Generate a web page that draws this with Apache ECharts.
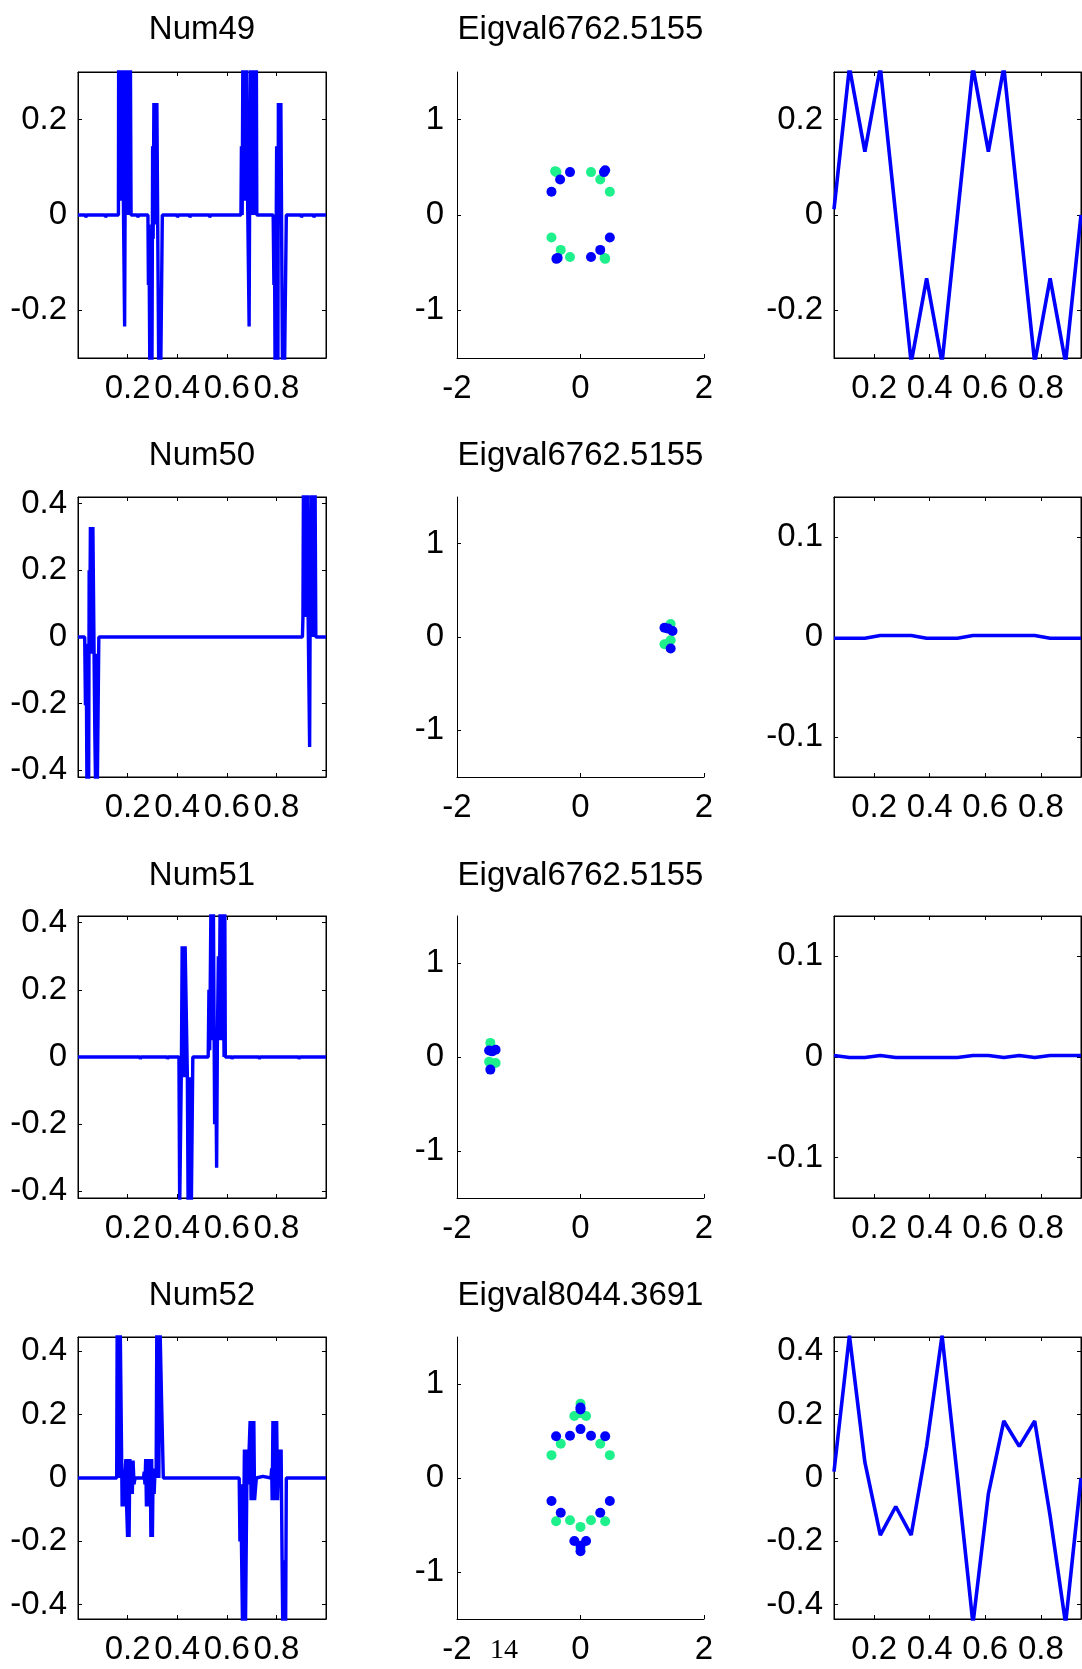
<!DOCTYPE html>
<html><head><meta charset="utf-8">
<script src="https://cdn.jsdelivr.net/npm/echarts@6/dist/echarts.min.js"></script>
<style>html,body{margin:0;padding:0;background:#fff}#c{width:1082px;height:1669px}</style>
</head><body><div id="c"></div>
<script>
// ---------- DATA ----------
const rowTitles = ['Num49', 'Num50', 'Num51', 'Num52'];
const eigTitles = ['Eigval6762.5155', 'Eigval6762.5155', 'Eigval6762.5155', 'Eigval8044.3691'];
const pageNumber = '14';

// column 1: fine signals [x, y]
const sig49 = [[0,0],[0.03,0],[0.031,-0.005],[0.034,-0.005],[0.035,0],[0.11,0],[0.111,-0.005],[0.114,0],[0.163,0],
 [0.164,0.36],[0.166,0.03],[0.168,0.36],[0.171,0.03],[0.174,0.36],[0.176,0.03],[0.179,0.36],[0.183,0.03],[0.186,0.03],[0.188,-0.234],[0.190,0.03],[0.193,0.36],[0.196,0.0],[0.199,0.36],[0.202,0.0],[0.205,0.36],[0.208,0.0],[0.211,0.36],[0.214,0.0],[0.216,0],
 [0.24,0],[0.241,-0.005],[0.244,0],[0.282,0],
 [0.284,-0.147],[0.286,-0.02],[0.290,-0.36],[0.294,-0.05],[0.298,-0.36],[0.301,0.144],[0.303,-0.05],[0.306,0.235],[0.312,0.235],[0.314,-0.02],[0.318,0.235],[0.324,0.235],[0.326,-0.36],[0.330,-0.218],[0.333,-0.36],[0.338,-0.36],[0.340,0],[0.342,0],
 [0.40,0],[0.401,-0.005],[0.404,0],[0.45,0],[0.451,-0.005],[0.454,0],[0.53,0],[0.531,-0.005],[0.534,0],[0.657,0],
 [0.659,0.144],[0.662,0.0],[0.665,0.36],[0.669,0.03],[0.672,0.36],[0.676,0.03],[0.680,0.36],[0.684,0.03],[0.688,0.03],[0.690,-0.234],[0.692,0.03],[0.697,0.36],[0.701,0.0],[0.705,0.36],[0.709,0.0],[0.713,0.36],[0.717,0.0],[0.719,0.36],[0.721,0],[0.723,0],
 [0.787,0],[0.790,-0.147],[0.792,-0.02],[0.795,-0.36],[0.799,-0.05],[0.801,0.144],[0.803,-0.05],[0.806,-0.36],[0.808,0.235],[0.814,0.235],[0.816,-0.02],[0.818,0.235],[0.822,0.235],[0.825,-0.36],[0.828,-0.218],[0.832,-0.36],[0.838,-0.36],[0.840,0],[0.846,0],
 [0.9,0],[0.901,-0.005],[0.904,0],[0.95,0],[0.951,-0.005],[0.954,0],[1,0]];

const sig50 = [[0,0],[0.027,0],[0.030,-0.205],[0.033,-0.02],[0.036,-0.45],[0.040,-0.05],[0.043,-0.45],[0.045,0.2],[0.047,-0.05],[0.050,0.33],[0.056,0.33],[0.058,-0.05],[0.060,0.33],[0.066,0.33],[0.068,-0.3],[0.071,-0.45],[0.074,-0.05],[0.078,-0.45],[0.082,-0.45],[0.084,0],[0.086,0],
 [0.13,0],[0.131,-0.006],[0.134,0],[0.30,0],[0.301,-0.006],[0.304,0],[0.41,0],[0.411,-0.006],[0.414,0],[0.56,0],[0.561,-0.006],[0.564,0],[0.70,0],[0.701,-0.006],[0.704,0],[0.80,0],[0.801,-0.006],[0.804,0],[0.905,0],
 [0.907,0.06],[0.909,0.45],[0.913,0.06],[0.917,0.45],[0.921,0.06],[0.925,0.45],[0.928,0.06],[0.932,0.06],[0.934,-0.33],[0.936,0.06],[0.940,0.45],[0.944,0.0],[0.948,0.45],[0.952,0.0],[0.956,0.45],[0.959,0.0],[0.962,0],[0.97,0],[0.971,-0.006],[0.974,0],[1,0]];

const sig51 = [[0,0],[0.25,0],[0.251,-0.006],[0.254,0],[0.36,0],[0.361,-0.006],[0.364,0],[0.407,0],
 [0.410,-0.45],[0.414,-0.45],[0.417,-0.02],[0.420,0.33],[0.426,0.33],[0.429,-0.06],[0.432,0.33],[0.438,0.33],[0.441,-0.06],[0.444,-0.45],[0.450,-0.45],[0.453,-0.06],[0.457,-0.45],[0.461,-0.45],[0.463,0],
 [0.525,0],[0.528,0.2],[0.531,0.02],[0.536,0.45],[0.542,0.05],[0.546,0.45],[0.551,-0.2],[0.555,0.05],[0.559,-0.33],[0.562,0.05],[0.566,0.3],[0.569,0.05],[0.573,0.45],[0.579,0.05],[0.583,0.45],[0.589,0.0],[0.592,0.45],[0.594,0],[0.597,0],
 [0.62,0],[0.621,-0.006],[0.624,0],[0.73,0],[0.731,-0.006],[0.734,0],[0.89,0],[0.891,-0.006],[0.894,0],[1,0]];

const sig52 = [[0,0],[0.09,0],[0.091,-0.006],[0.094,0],[0.12,0],[0.121,-0.006],[0.124,0],[0.156,0],
 [0.158,0.5],[0.166,0.5],[0.168,0.0],[0.170,0.5],[0.176,0.5],[0.178,-0.09],[0.182,0.02],[0.186,-0.09],[0.190,0.02],[0.193,0.06],[0.196,-0.09],[0.200,-0.186],[0.203,0.06],[0.206,-0.186],[0.209,0.06],[0.212,-0.05],[0.215,0.055],[0.219,-0.05],[0.222,0.055],[0.226,-0.02],[0.230,0],
 [0.264,0],[0.267,0.02],[0.270,-0.02],[0.273,0.06],[0.276,-0.09],[0.279,0.06],[0.282,-0.09],[0.285,0.06],[0.288,-0.09],[0.291,0.06],[0.294,-0.186],[0.297,0.06],[0.300,-0.186],[0.303,0.03],[0.307,-0.05],[0.311,0.03],[0.315,0.0],[0.318,0.5],[0.324,0.5],[0.326,0.0],[0.330,0.5],[0.336,0.5],[0.338,0.21],[0.341,0.21],[0.344,0],
 [0.52,0],[0.521,-0.006],[0.524,0],[0.55,0],[0.551,-0.006],[0.554,0],[0.650,0],
 [0.653,-0.2],[0.656,-0.02],[0.660,-0.26],[0.664,-0.5],[0.668,-0.5],[0.671,0.09],[0.675,-0.5],[0.679,-0.5],[0.682,0.09],[0.686,-0.02],[0.690,0.09],[0.694,0.18],[0.698,-0.07],[0.702,0.18],[0.706,-0.07],[0.709,0.18],[0.712,-0.07],[0.716,-0.07],[0.719,0],[0.725,0.005],[0.745,0.005],[0.75,0],
 [0.778,0],[0.781,0.03],[0.783,-0.07],[0.786,0.18],[0.790,-0.07],[0.794,0.18],[0.798,-0.07],[0.801,0.18],[0.805,-0.07],[0.808,-0.07],[0.811,0.09],[0.815,-0.02],[0.819,0.09],[0.823,-0.26],[0.826,-0.5],[0.831,-0.5],[0.834,-0.26],[0.837,-0.5],[0.84,0],[0.845,0],
 [0.86,0],[0.861,-0.006],[0.864,0],[0.88,0],[0.881,-0.006],[0.884,0],[1,0]];

// column 2: eigenvalue scatter [re, im]
const eigBlue49 = [[-0.47,0.243],[-0.33,0.373],[-0.17,0.45],[0.40,0.47],[0.38,0.45],[0.475,-0.236],[0.32,-0.366],[0.17,-0.44],[-0.39,-0.46],[-0.37,-0.45]];
const eigGreen49 = [[-0.41,0.46],[-0.39,0.45],[0.17,0.45],[0.32,0.373],[0.475,0.243],[-0.47,-0.236],[-0.32,-0.366],[-0.17,-0.44],[0.40,-0.46],[0.39,-0.45]];
const eigBlue50 = [[1.36,0.10],[1.42,0.09],[1.49,0.064],[1.46,-0.124]];
const eigGreen50 = [[1.46,0.14],[1.36,-0.078],[1.42,-0.07],[1.46,-0.035]];
const eigBlue51 = [[-1.48,0.07],[-1.375,0.078],[-1.43,0.06],[-1.46,-0.134]];
const eigGreen51 = [[-1.46,0.15],[-1.48,-0.05],[-1.375,-0.064],[-1.43,-0.07]];
const eigBlue52 = [[0,0.75],[0,0.73],[0,0.52],[-0.395,0.445],[-0.17,0.45],[0.17,0.45],[0.40,0.445],[-0.47,-0.245],[-0.32,-0.37],[0.32,-0.37],[0.475,-0.245],[-0.1,-0.67],[0.09,-0.67],[0,-0.72],[0,-0.78]];
const eigGreen52 = [[0,0.79],[-0.1,0.66],[0.09,0.66],[0,0.69],[-0.32,0.365],[0.32,0.365],[-0.47,0.243],[0.475,0.243],[-0.395,-0.46],[-0.17,-0.45],[0.17,-0.45],[0.40,-0.46],[0,-0.52],[0,-0.75]];

// column 3: coarse signals at 17 sample positions
const coarseX = [0.0556,0.1111,0.1667,0.2222,0.2778,0.3333,0.3889,0.4444,0.5,0.5556,0.6111,0.6667,0.7222,0.7778,0.8333,0.8889,0.9444];
const coarse49 = [0.012,0.31,0.133,0.31,0.0,-0.31,-0.133,-0.31,0.0,0.31,0.133,0.31,0.0,-0.31,-0.133,-0.31,0.0];
const coarse50 = [-0.0012,-0.0012,-0.0012,0.0015,0.0015,0.0015,-0.0012,-0.0012,-0.0012,0.0015,0.0015,0.0015,0.0015,0.0015,-0.0012,-0.0012,-0.0012];
const coarse51 = [0.0015,-0.0005,-0.0005,0.0015,-0.0005,-0.0005,-0.0005,-0.0005,-0.0005,0.0015,0.0015,-0.0005,0.0015,-0.0005,0.0015,0.0015,0.0015];
const coarse52 = [0.02,0.45,0.05,-0.18,-0.09,-0.18,0.1,0.45,0.0,-0.46,-0.05,0.18,0.1,0.18,-0.12,-0.46,0.0];

// axis ranges / ticks
const sigYMax = [0.3, 0.42, 0.42, 0.445];
const sigYTicks = [[-0.2,0,0.2],[-0.4,-0.2,0,0.2,0.4],[-0.4,-0.2,0,0.2,0.4],[-0.4,-0.2,0,0.2,0.4]];
const coarseYMax = [0.3, 0.14, 0.14, 0.445];
const coarseYTicks = [[-0.2,0,0.2],[-0.1,0,0.1],[-0.1,0,0.1],[-0.4,-0.2,0,0.2,0.4]];
const fracTicks = [0.2,0.4,0.6,0.8];
const eigXTicks = [-2,0,2];
const eigYTicks = [-1,0,1];

// ---------- LAYOUT ----------
const FONT = '"Liberation Sans", Arial, Helvetica, sans-serif';
const BLUE = '#0000ff', GREEN = '#1ef08c';
const cols = [{left:78,width:248},{left:457,width:247},{left:834,width:247}];
const rows = [{top:72,height:286},{top:497,height:280},{top:916,height:282},{top:1337,height:282}];

const sigs = [sig49, sig50, sig51, sig52];
const coarse = [coarse49, coarse50, coarse51, coarse52];
const eigB = [eigBlue49, eigBlue50, eigBlue51, eigBlue52];
const eigG = [eigGreen49, eigGreen50, eigGreen51, eigGreen52];

const fmt = v => String(Math.round(v * 1000) / 1000);

function mkAxis(gridIndex, min, max, ticks, position, showLabel, margin) {
  return {
    type: 'value', gridIndex, min, max, position,
    axisLine: {show: true, onZero: false, lineStyle: {color: '#000', width: 1}},
    axisTick: {show: true, inside: true, length: 4, customValues: ticks, lineStyle: {color: '#000', width: 1}},
    axisLabel: {show: showLabel, customValues: ticks, formatter: fmt, fontSize: 33, color: '#000', fontFamily: FONT, margin},
    splitLine: {show: false}
  };
}

const grid = [], xAxis = [], yAxis = [], series = [], graphic = [];

rows.forEach((r, ri) => {
  cols.forEach((c, ci) => {
    const gi = grid.length;
    grid.push({left: c.left, top: r.top, width: c.width, height: r.height,
      show: ci !== 1, borderColor: '#000', borderWidth: 1, backgroundColor: 'transparent'});
    let xmin, xmax, xt, ymax, yt, ymin;
    if (ci === 0) { xmin = 0; xmax = 1; xt = fracTicks; ymax = sigYMax[ri]; ymin = -ymax; yt = sigYTicks[ri]; }
    else if (ci === 1) { xmin = -2; xmax = 2; xt = eigXTicks; ymin = -1.5; ymax = 1.5; yt = eigYTicks; }
    else { xmin = coarseX[0]; xmax = coarseX[coarseX.length - 1]; xt = fracTicks; ymax = coarseYMax[ri]; ymin = -ymax; yt = coarseYTicks[ri]; }
    const xi = xAxis.length, yi = yAxis.length;
    xAxis.push(mkAxis(gi, xmin, xmax, xt, 'bottom', true, 14));
    yAxis.push(mkAxis(gi, ymin, ymax, yt, 'left', true, ci === 1 ? 13 : 11));
    if (ci !== 1) {
      xAxis.push(mkAxis(gi, xmin, xmax, xt, 'top', false, 8));
      yAxis.push(mkAxis(gi, ymin, ymax, yt, 'right', false, 8));
    }
    if (ci === 0) {
      series.push({type: 'line', xAxisIndex: xi, yAxisIndex: yi, data: sigs[ri], showSymbol: false, symbol: 'none',
        clip: true, silent: true, lineStyle: {color: BLUE, width: 3.4}, itemStyle: {color: BLUE}});
    } else if (ci === 1) {
      series.push({type: 'scatter', xAxisIndex: xi, yAxisIndex: yi, data: eigG[ri], symbolSize: 10, silent: true,
        itemStyle: {color: GREEN, opacity: 1}});
      series.push({type: 'scatter', xAxisIndex: xi, yAxisIndex: yi, data: eigB[ri], symbolSize: 10, silent: true,
        itemStyle: {color: BLUE, opacity: 1}});
    } else {
      series.push({type: 'line', xAxisIndex: xi, yAxisIndex: yi, data: coarseX.map((x, k) => [x, coarse[ri][k]]),
        showSymbol: false, symbol: 'none', clip: true, silent: true, lineStyle: {color: BLUE, width: 3.6}, itemStyle: {color: BLUE}});
    }
  });
});

const titleY = [30, 456, 876, 1296];
rows.forEach((r, ri) => {
  graphic.push({type: 'text', x: cols[0].left + cols[0].width / 2, y: titleY[ri],
    style: {text: rowTitles[ri], font: '33px ' + FONT, fill: '#000', textAlign: 'center', textVerticalAlign: 'middle'}});
  graphic.push({type: 'text', x: cols[1].left + cols[1].width / 2, y: titleY[ri],
    style: {text: eigTitles[ri], font: '33px ' + FONT, fill: '#000', textAlign: 'center', textVerticalAlign: 'middle'}});
});
graphic.push({type: 'text', x: 504, y: 1651,
  style: {text: pageNumber, font: '28px "Liberation Serif", "DejaVu Serif", serif', fill: '#000', textAlign: 'center', textVerticalAlign: 'middle'}});

const chart = echarts.init(document.getElementById('c'), null, {renderer: 'canvas'});
chart.setOption({animation: false, backgroundColor: '#fff', grid, xAxis, yAxis, series, graphic});
</script></body></html>
